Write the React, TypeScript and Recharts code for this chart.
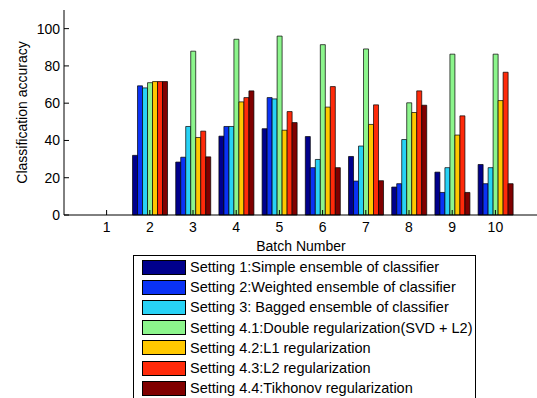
import React from 'react';
import { BarChart, Bar, XAxis, YAxis, Label } from 'recharts';

const batches = ['1', '2', '3', '4', '5', '6', '7', '8', '9', '10'];
const yTicks = [0, 20, 40, 60, 80, 100];

const setting1 = [0, 32, 28.4, 42.3, 46.3, 42.1, 31.4, 15, 23, 27.1];
const setting2 = [0, 69.3, 31, 47.5, 63, 25.4, 18.2, 16.8, 12.1, 16.8];
const setting3 = [0, 68.2, 47.5, 47.5, 62.3, 29.8, 37, 40.5, 25.4, 25.4];
const setting41 = [0, 71, 87.9, 94.3, 96, 91.4, 89.1, 60.2, 86.3, 86.3];
const setting42 = [0, 71.6, 41.6, 60.7, 45.5, 57.9, 48.6, 55, 42.9, 61.4];
const setting43 = [0, 71.6, 45, 63, 55.5, 68.9, 59.1, 66.6, 53.2, 76.6];
const setting44 = [0, 71.6, 31.2, 66.6, 49.6, 25.4, 18.4, 58.9, 12.1, 16.8];

const seriesNames = [
  'Setting 1:Simple ensemble of classifier',
  'Setting 2:Weighted ensemble of classifier',
  'Setting 3: Bagged ensemble of classifier',
  'Setting 4.1:Double regularization(SVD + L2)',
  'Setting 4.2:L1 regularization',
  'Setting 4.3:L2 regularization',
  'Setting 4.4:Tikhonov regularization',
];
const seriesColors = ['#00008c', '#0a32f5', '#28d2f5', '#8cf58c', '#ffc800', '#ff2a0a', '#800000'];
const seriesValues = [setting1, setting2, setting3, setting41, setting42, setting43, setting44];

const data = batches.map((b, i) => {
  const row: Record<string, string | number> = { batch: b };
  seriesValues.forEach((vals, k) => {
    row['s' + k] = vals[i];
  });
  return row;
});

const font = '"Liberation Sans", Arial, sans-serif';
const noLabel = () => <g />;

const ChartLegend = () => (
  <div
    style={{
      position: 'absolute',
      left: 133,
      top: 255,
      width: 343,
      height: 150,
      border: '1px solid #000',
      background: '#fff',
      fontFamily: font,
      fontSize: 14.5,
      color: '#000',
      boxSizing: 'border-box',
    }}
  >
    {seriesNames.map((name, i) => (
      <div
        key={name}
        style={{ position: 'absolute', left: 8, top: 3 + i * 20.2, height: 16, display: 'flex', alignItems: 'center' }}
      >
        <div style={{ width: 44, height: 15, background: seriesColors[i], border: '1px solid #000', boxSizing: 'border-box' }} />
        <span style={{ marginLeft: 4, whiteSpace: 'nowrap' }}>{name}</span>
      </div>
    ))}
  </div>
);

export default function App() {
  return (
    <div style={{ position: 'absolute', left: 0, top: 0, width: 537, height: 398, overflow: 'hidden', background: '#fff' }}>
      <BarChart
        width={540}
        height={398}
        data={data}
        margin={{ top: 10, right: 2, bottom: 143, left: 0 }}
        barCategoryGap="10%"
        barGap={0}
        style={{ fontFamily: font }}
      >
        <XAxis
          dataKey="batch"
          height={40}
          padding={{ left: 21, right: 21 }}
          tickSize={-5}
          tickMargin={12}
          stroke="#000"
          tick={{ fill: '#000', fontSize: 14 }}
        >
          <Label value="Batch Number" position="insideBottom" offset={4} style={{ fill: '#000', fontSize: 14 }} />
        </XAxis>
        <XAxis
          xAxisId="top"
          dataKey="batch"
          orientation="top"
          height={0}
          padding={{ left: 21, right: 21 }}
          tickSize={-5}
          tick={noLabel}
          stroke="#000"
        />
        <YAxis
          width={64}
          domain={[0, 110]}
          ticks={yTicks}
          tickSize={-5}
          tickMargin={9}
          stroke="#000"
          tick={{ fill: '#000', fontSize: 14 }}
        >
          <Label
            value="Classification accuracy"
            angle={-90}
            position="insideLeft"
            offset={22}
            style={{ fill: '#000', fontSize: 14, textAnchor: 'middle' }}
          />
        </YAxis>
        <YAxis
          yAxisId="right"
          orientation="right"
          width={0}
          domain={[0, 110]}
          ticks={yTicks}
          tickSize={-5}
          tick={noLabel}
          stroke="#000"
        />
        {seriesNames.map((name, k) => (
          <Bar
            key={name}
            dataKey={'s' + k}
            name={name}
            fill={seriesColors[k]}
            stroke="#000"
            strokeWidth={0.7}
            isAnimationActive={false}
          />
        ))}
      </BarChart>
      <ChartLegend />
    </div>
  );
}
